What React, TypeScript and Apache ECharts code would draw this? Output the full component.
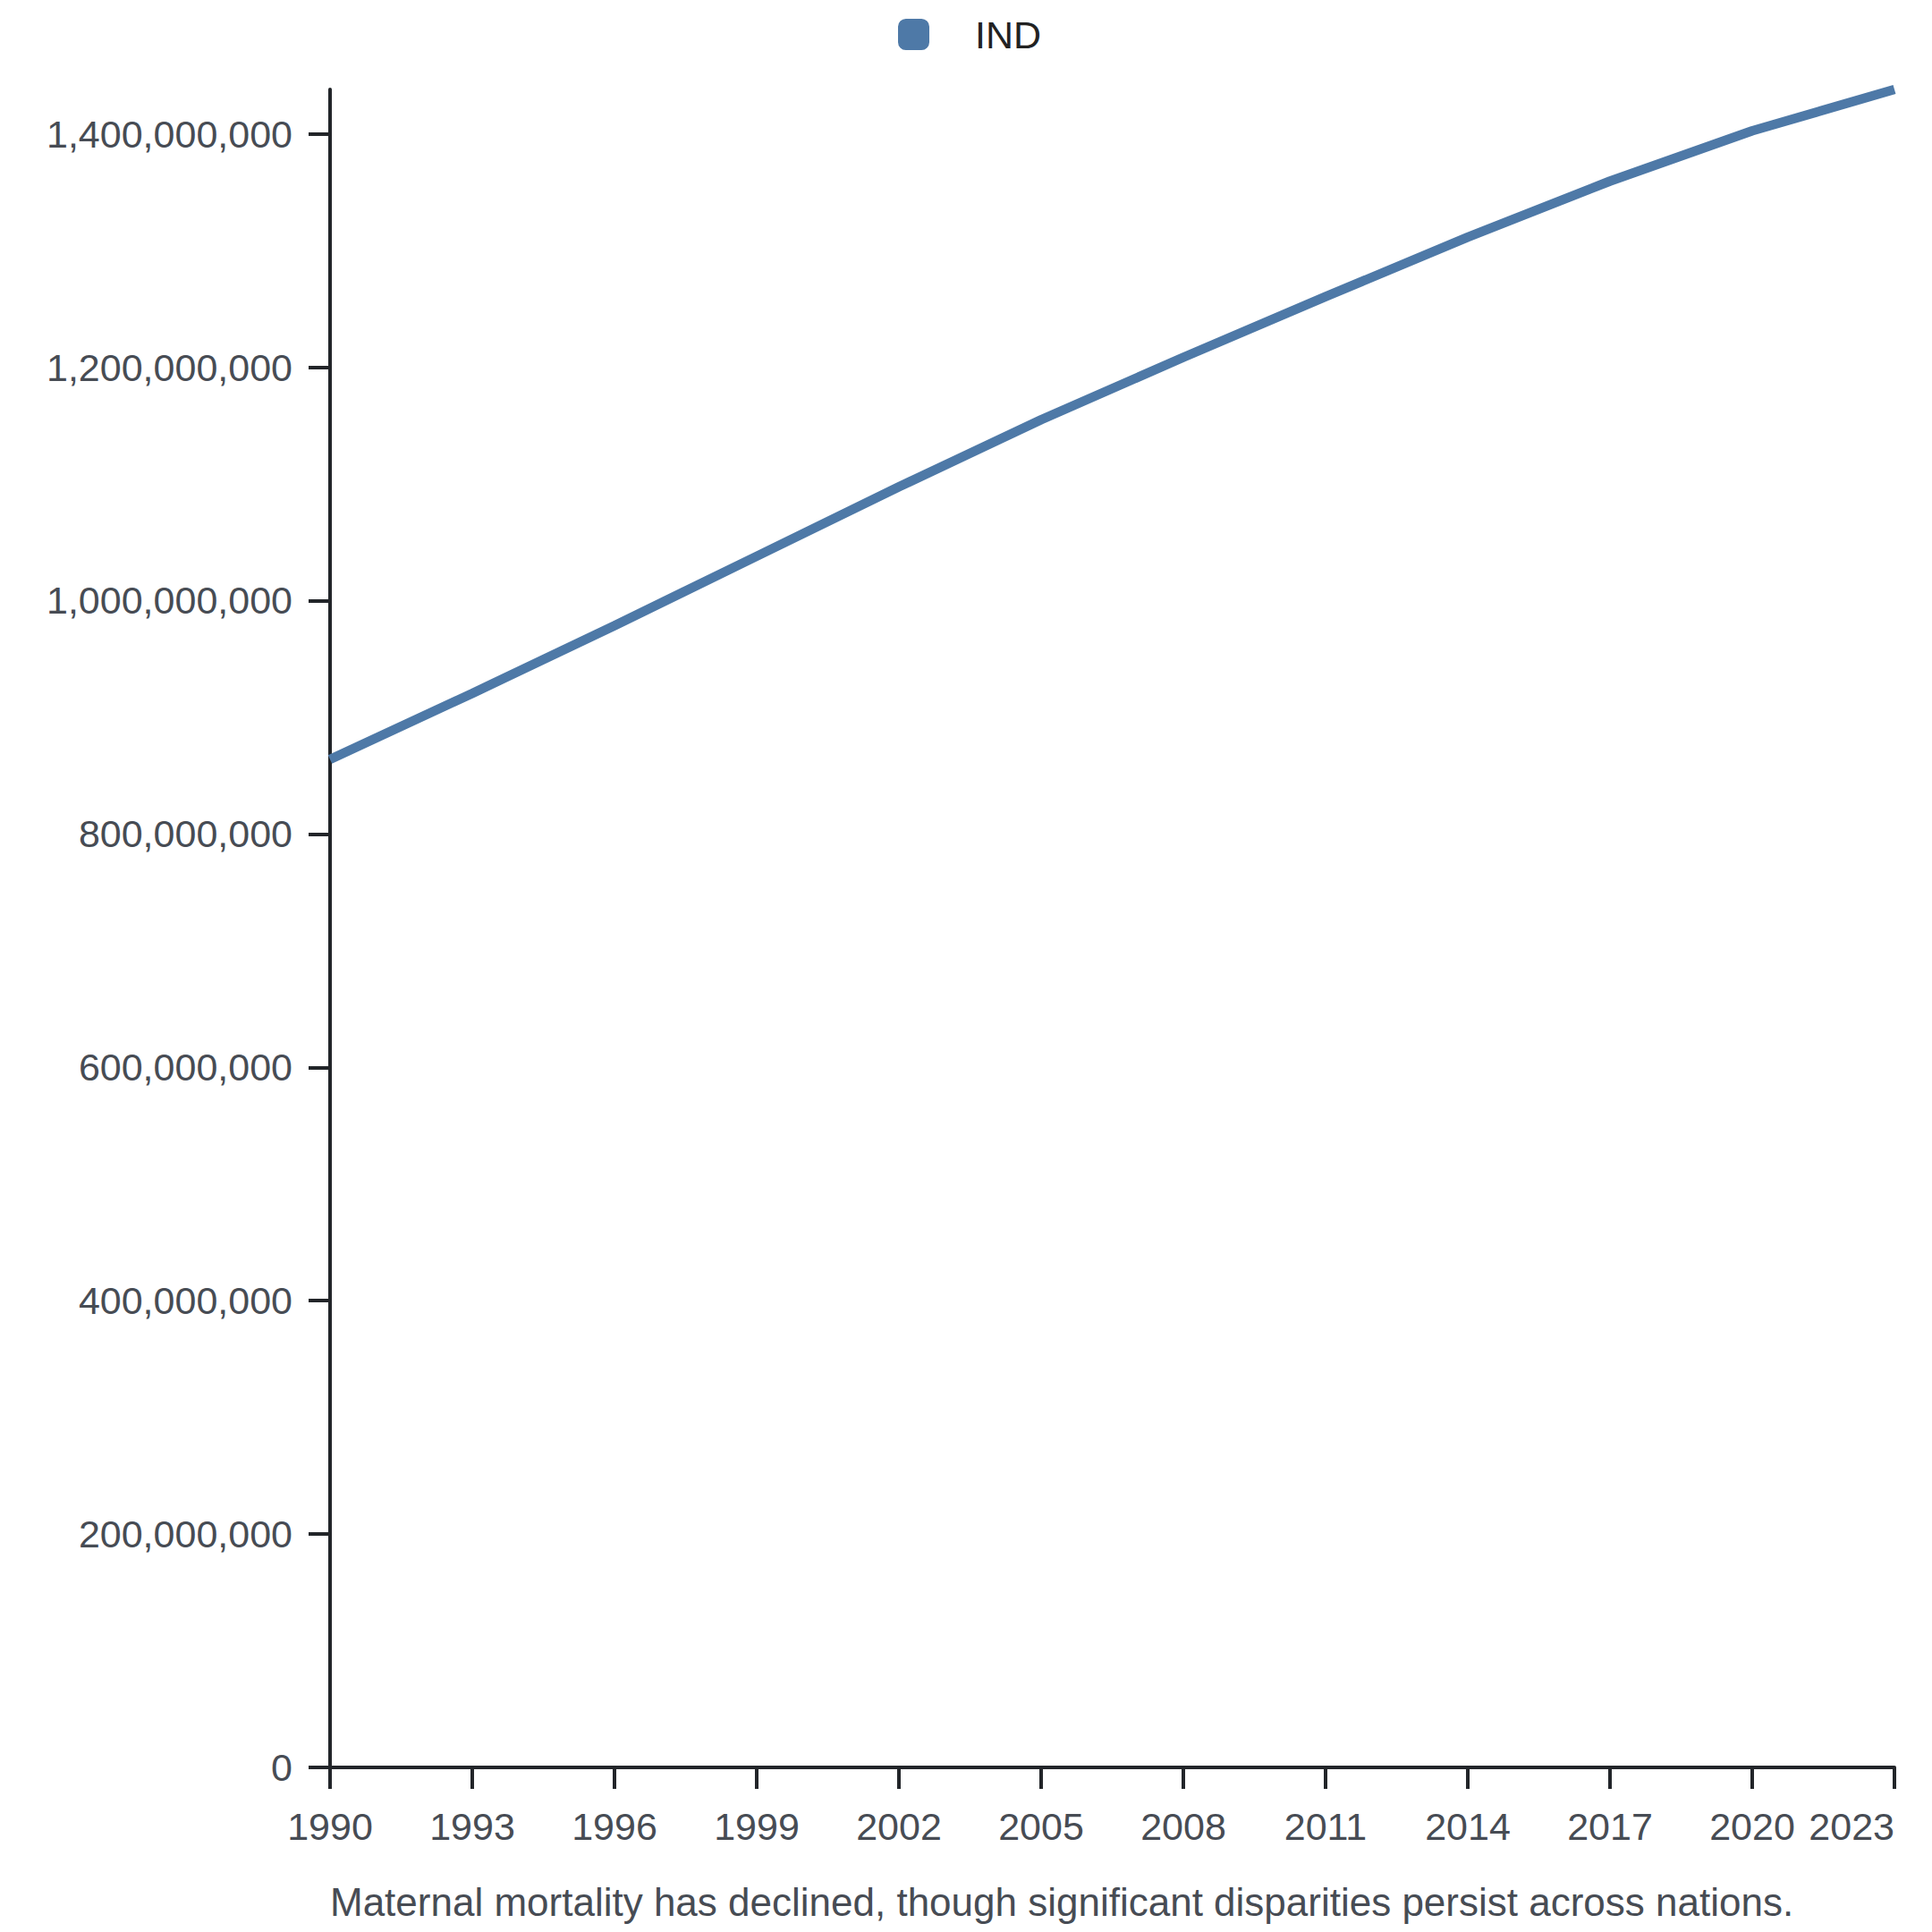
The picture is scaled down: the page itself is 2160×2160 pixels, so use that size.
import React, { useEffect, useRef } from "react";
import * as echarts from "echarts";

const years = ["1990", "1993", "1996", "1999", "2002", "2005", "2008", "2011", "2014", "2017", "2020", "2023"];
const indPopulation = [
  864000000, 920500000, 978500000, 1038000000, 1097500000, 1155000000,
  1208500000, 1260500000, 1311500000, 1359500000, 1402600000, 1438069596,
];
const yTicks = [0, 200000000, 400000000, 600000000, 800000000, 1000000000, 1200000000, 1400000000];
const seriesName = "IND";
const caption = "Maternal mortality has declined, though significant disparities persist across nations.";

const FONT = "'Liberation Sans', Arial, sans-serif";

export default function App() {
  const ref = useRef<HTMLDivElement>(null);
  useEffect(() => {
    if (!ref.current) return;
    const chart = echarts.init(ref.current, null, { renderer: "svg" });
    chart.setOption({
      animation: false,
      textStyle: { fontFamily: FONT },
      legend: {
        data: [seriesName],
        left: 991,
        top: 4,
        icon: "roundRect",
        itemWidth: 35,
        itemHeight: 35,
        textStyle: { fontSize: 43, color: "#222222", fontFamily: FONT, padding: [0, 0, 0, 46] },
      },
      grid: { left: 361, right: 34, top: 92, bottom: 176, containLabel: false },
      xAxis: {
        type: "category",
        data: years,
        boundaryGap: false,
        axisLine: { lineStyle: { color: "#222529", width: 4 } },
        axisTick: { show: true, length: 24, lineStyle: { color: "#222529", width: 4 } },
        axisLabel: {
          fontSize: 43,
          color: "#474c54",
          margin: 44,
          fontFamily: FONT,
          alignMaxLabel: "right",
          hideOverlap: false,
          interval: 0,
        },
        splitLine: { show: false },
      },
      yAxis: {
        type: "value",
        min: 0,
        max: "dataMax",
        axisLine: { show: true, lineStyle: { color: "#222529", width: 4 } },
        axisTick: { show: true, length: 24, customValues: yTicks, lineStyle: { color: "#222529", width: 4 } },
        axisLabel: {
          fontSize: 43,
          color: "#474c54",
          margin: 42,
          fontFamily: FONT,
          customValues: yTicks,
          formatter: (v: number) => v.toLocaleString("en-US"),
        },
        splitLine: { show: false },
      },
      series: [
        {
          name: seriesName,
          type: "line",
          data: indPopulation,
          showSymbol: false,
          symbol: "none",
          lineStyle: { color: "#4e79a7", width: 10.5 },
          itemStyle: { color: "#4e79a7" },
        },
      ],
      graphic: [
        {
          type: "text",
          x: 361,
          y: 2118,
          style: {
            text: caption,
            fontSize: 44,
            fill: "#474c54",
            fontFamily: FONT,
            verticalAlign: "middle",
            align: "left",
          },
        },
      ],
    });
    return () => chart.dispose();
  }, []);
  return <div ref={ref} style={{ width: 2144, height: 2144 }} />;
}
